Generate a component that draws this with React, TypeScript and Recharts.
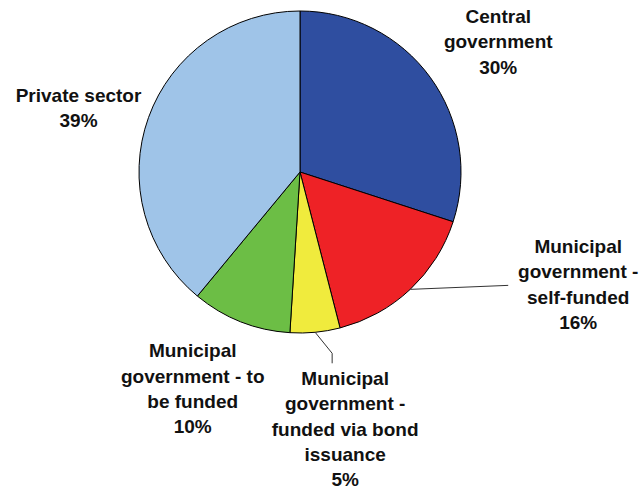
import React from 'react';
import { PieChart, Pie, Cell } from 'recharts';

const categories = [
  'Central government',
  'Municipal government - self-funded',
  'Municipal government - funded via bond issuance',
  'Municipal government - to be funded',
  'Private sector',
];
const labelLines = [
  ['Central', 'government'],
  ['Municipal', 'government -', 'self-funded'],
  ['Municipal', 'government -', 'funded via bond', 'issuance'],
  ['Municipal', 'government - to', 'be funded'],
  ['Private sector'],
];
const values = [30, 16, 5, 10, 39];
const colors = ['#2F4EA0', '#EE2226', '#F0EB3D', '#6CBE45', '#9FC4E8'];

// label placement relative to the slice's outer mid point
const labelOffsets = [
  { dx: 68, dy: -61, leader: null as null | number[][] },
  { dx: 168, dy: -43, leader: [[98, -4]] },
  { dx: 30, dy: 46, leader: [[17, 21], [17, 31]] },
  { dx: -48, dy: 29, leader: null },
  { dx: -70, dy: -22, leader: null },
];

const data = categories.map((name, i) => ({ name, value: values[i] }));

const RAD = Math.PI / 180;
const LINE_H = 25.4;

const renderLabel = (props: any) => {
  const { cx, cy, midAngle, outerRadius, index, value } = props;
  const ex = cx + outerRadius * Math.cos(-midAngle * RAD);
  const ey = cy + outerRadius * Math.sin(-midAngle * RAD);
  const off = labelOffsets[index];
  const x = ex + off.dx;
  const y = ey + off.dy;
  const lines = [...labelLines[index], `${value}%`];
  return (
    <g key={`lbl-${index}`}>
      {off.leader && (
        <polyline
          points={[[0, 0], ...off.leader].map((p) => `${ex + p[0]},${ey + p[1]}`).join(' ')}
          fill="none"
          stroke="#333"
          strokeWidth={1}
        />
      )}
      <text
        x={x}
        y={y}
        textAnchor="middle"
        fontFamily="'Liberation Sans', Arial, sans-serif"
        fontWeight="bold"
        fontSize={19}
        fill="#111"
      >
        {lines.map((l, i) => (
          <tspan key={i} x={x} y={y + i * LINE_H} dominantBaseline="central">
            {l}
          </tspan>
        ))}
      </text>
    </g>
  );
};

export default function App() {
  return (
    <div style={{ position: 'absolute', left: 0, top: 0, width: 640, height: 491, background: '#fff' }}>
      <PieChart width={640} height={491} margin={{ top: 0, right: 0, bottom: 0, left: 0 }}>
        <Pie
          data={data}
          dataKey="value"
          nameKey="name"
          cx={300}
          cy={172}
          outerRadius={161}
          startAngle={90}
          endAngle={-270}
          stroke="#000"
          strokeWidth={1}
          label={renderLabel}
          labelLine={false}
          isAnimationActive={false}
        >
          {data.map((d, i) => (
            <Cell key={d.name} fill={colors[i]} />
          ))}
        </Pie>
      </PieChart>
    </div>
  );
}
